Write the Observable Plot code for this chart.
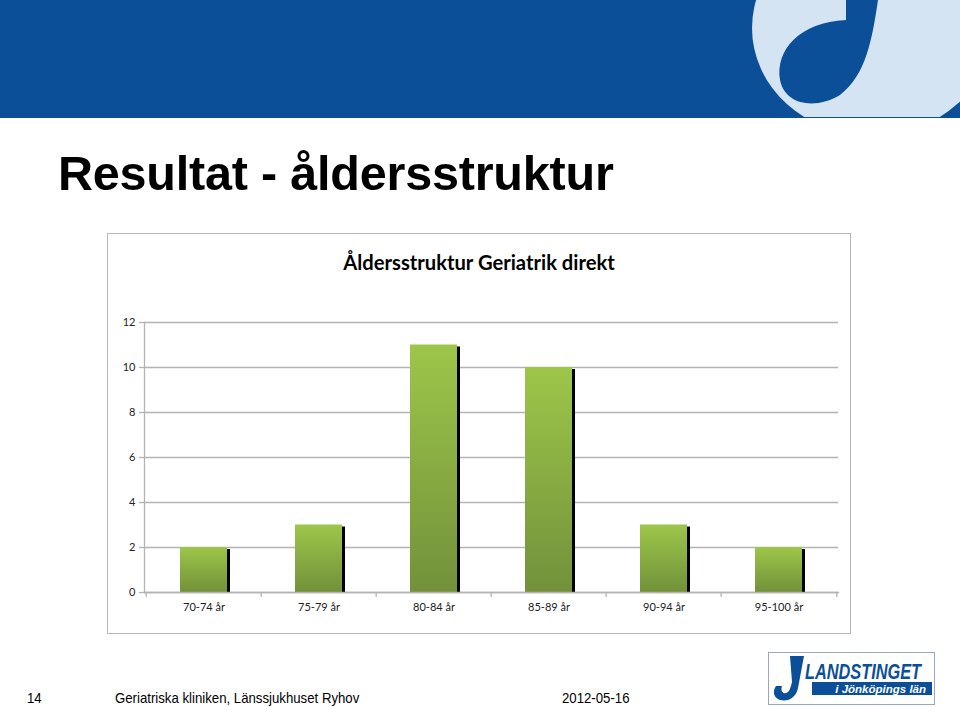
<!DOCTYPE html>
<html>
<head>
<meta charset="utf-8">
<script src="https://cdn.jsdelivr.net/npm/d3@7"></script>
<script src="https://cdn.jsdelivr.net/npm/@observablehq/plot@0.6"></script>
<style>
  html, body { margin: 0; padding: 0; background: #fff; }
  body { width: 960px; height: 707px; position: relative; overflow: hidden; font-family: "Liberation Sans", Arial, sans-serif; }
  #header { position: absolute; left: 0; top: 0; width: 960px; height: 118px; }
  #title { position: absolute; left: 58px; top: 145px; font-size: 48.5px; font-weight: bold; color: #000; letter-spacing: -0.2px; white-space: nowrap; }
  #panel { position: absolute; left: 107px; top: 233px; width: 742px; height: 399px; border: 1px solid #b8b8b8; background: #fff; }
  #ctitle { position: absolute; left: 0; width: 742px; top: 16px; text-align: center; font-family: Lato, "Open Sans", sans-serif; font-weight: bold; font-size: 20.2px; color: #000; }
  #chart { position: absolute; left: 0; top: 66px; }
  .foot { position: absolute; top: 689px; font-size: 15px; color: #000; white-space: nowrap; transform: scaleX(0.88); transform-origin: 0 0; }
  #logo { position: absolute; left: 768px; top: 652px; width: 167px; height: 53px; overflow: visible; }
</style>
</head>
<body>
<svg id="header" width="960" height="118" viewBox="0 0 960 118">
  <rect x="0" y="0" width="960" height="118" fill="#0b4f98"/>
  <ellipse cx="872" cy="28" rx="120" ry="108" fill="#d5e4f2"/>
  <path d="M 846 0 L 878 0 C 872 40, 866 75, 840 95 C 815 110, 785 105, 780 80 C 775 50, 800 22, 846 20 Z" fill="#0b4f98"/>
  <rect x="0" y="117" width="960" height="1" fill="#0b4f98"/>
</svg>
<div id="title">Resultat - åldersstruktur</div>
<div id="panel">
  <div id="ctitle">Åldersstruktur Geriatrik direkt</div>
  <div id="chart"></div>
</div>
<div class="foot" style="left:27px">14</div>
<div class="foot" style="left:115px">Geriatriska kliniken, Länssjukhuset Ryhov</div>
<div class="foot" style="left:562px">2012-05-16</div>
<svg id="logo" width="167" height="53" viewBox="0 0 167 53">
  <rect x="0.5" y="0.5" width="166" height="52" fill="#fff" stroke="#9aa7c0" stroke-width="1"/>
  <path d="M 22 4 L 36 4 L 30 36 C 28 46, 20 50, 12 48 C 6 46, 4 40, 8 34 L 14 34 C 12 40, 16 43, 20 40 C 22 38, 23 34, 24 30 Z" fill="#0b4f98"/>
  <text x="37" y="27" font-family="Liberation Sans, Arial" font-weight="bold" font-style="italic" font-size="22" fill="#0b4f98" textLength="116" lengthAdjust="spacingAndGlyphs">LANDSTINGET</text>
  <rect x="44" y="30" width="120" height="13" fill="#0b4f98"/>
  <text x="158" y="40.5" text-anchor="end" font-family="Liberation Sans, Arial" font-weight="bold" font-style="italic" font-size="11.5" fill="#fff">i Jönköpings län</text>
</svg>
<script>
const categories = ["70-74 år", "75-79 år", "80-84 år", "85-89 år", "90-94 år", "95-100 år"];
const counts = [2, 3, 11, 10, 3, 2];
const yTicks = [0, 2, 4, 6, 8, 10, 12];

const data = categories.map((c, i) => ({cat: c, n: counts[i]}));
const gridColor = "#b3b3b3";
const labelFont = "Lato, 'Open Sans', sans-serif";

const W = 742, H = 320;
const mL = 36, mR = 12;
const step = (W - mL - mR) / categories.length;

const plot = Plot.plot({
  width: W,
  height: H,
  marginTop: 22,
  marginBottom: 28,
  marginLeft: mL,
  marginRight: mR,
  style: {fontFamily: labelFont, fontSize: "11px", color: "#222", background: "transparent"},
  x: {domain: categories, paddingInner: 0.59, paddingOuter: 0.295, label: null},
  y: {domain: [0, 12], ticks: yTicks, label: null},
  marks: [
    Plot.gridY(yTicks, {stroke: gridColor, strokeOpacity: 1, strokeWidth: 1.3}),
    Plot.barY(data, {x: "cat", y: "n", fill: "#000", dx: 3, insetTop: 2}),
    Plot.barY(data, {x: "cat", y: "n", fill: "url(#barGrad)"}),
    Plot.frame({anchor: "left", stroke: gridColor, strokeWidth: 1.3}),
    Plot.frame({anchor: "bottom", stroke: gridColor, strokeWidth: 1.3}),
    Plot.ruleX(categories, {x: d => d, dx: -step / 2, y1: 0, y2: -0.22, stroke: gridColor, strokeWidth: 1.3}),
    Plot.ruleX(categories.slice(-1), {x: d => d, dx: step / 2, y1: 0, y2: -0.22, stroke: gridColor, strokeWidth: 1.3}),
    Plot.axisY(yTicks, {tickSize: 5, tickPadding: 4, stroke: gridColor, strokeWidth: 1.3, fill: "#222", fontSize: 11}),
    Plot.axisX({tickSize: 0, tickPadding: 11, fill: "#222", fontSize: 11})
  ]
});

const svg = d3.select(plot);
const defs = svg.insert("defs", ":first-child");
const grad = defs.append("linearGradient").attr("id", "barGrad").attr("x1", 0).attr("y1", 0).attr("x2", 0).attr("y2", 1);
grad.append("stop").attr("offset", "0%").attr("stop-color", "#9dc64a");
grad.append("stop").attr("offset", "100%").attr("stop-color", "#72913a");

document.getElementById("chart").appendChild(plot);
</script>
</body>
</html>
